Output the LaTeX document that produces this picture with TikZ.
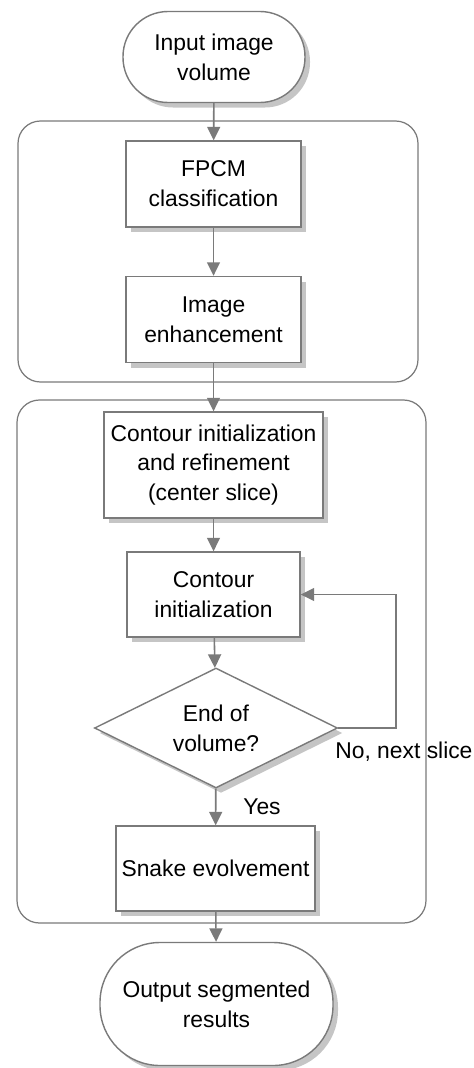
\documentclass[tikz,border=0pt]{standalone}
\usepackage{fontspec}
\setmainfont{Liberation Sans}
\usepackage{xcolor}
\usetikzlibrary{shapes.geometric,arrows.meta,shadows,positioning}
\definecolor{linegray}{HTML}{7A7A7A}

\tikzset{
    box/.style={draw=linegray, fill=white, line width=0.8pt, align=center,
        minimum width=3.5cm, minimum height=1.72cm, inner sep=2pt,
        font=\fontsize{13}{17}\selectfont,
        drop shadow={shadow xshift=0.1cm, shadow yshift=-0.1cm, fill=black!45}},
    term/.style={box, rounded corners=0.9cm},
    decision/.style={box, diamond, aspect=2, inner sep=0pt},
    flow/.style={draw=linegray, line width=0.9pt, -{Triangle[length=0.27cm,width=0.26cm]}},
    group/.style={draw=linegray, line width=0.7pt, rounded corners=0.45cm, inner sep=0pt},
    lbl/.style={anchor=west, inner sep=0pt, font=\fontsize{13}{17}\selectfont}
}

\begin{document}
\begin{tikzpicture}
    \useasboundingbox (0,0) rectangle (9.46,-21.36);

    % groups
    \node[group, minimum width=8.0cm, minimum height=5.22cm] (grpone) at (4.36,-5.03) {};
    \node[group, minimum width=8.18cm, minimum height=10.46cm] (grptwo) at (4.43,-13.23) {};

    % steps
    \node[term, minimum width=3.64cm, minimum height=1.82cm] (input) at (4.28,-1.14) {Input image\\volume};
    \node[box] (fpcm) at (4.27,-3.68) {FPCM\\classification};
    \node[box] (enhance) at (4.27,-6.39) {Image\\enhancement};
    \node[box, minimum width=4.38cm, minimum height=2.12cm] (refine) at (4.27,-9.3) {Contour initialization\\and refinement\\(center slice)};
    \node[box, minimum width=3.46cm, minimum height=1.7cm] (init) at (4.27,-11.89) {Contour\\initialization};
    \node[decision, minimum width=4.86cm, minimum height=2.4cm] (endvol) at (4.32,-14.56) {End of\\volume?};
    \node[box, minimum width=3.98cm, minimum height=1.7cm] (snake) at (4.31,-17.37) {Snake evolvement};
    \node[term, rounded corners=1.2cm, minimum width=4.66cm, minimum height=2.46cm] (output) at (4.33,-20.08) {Output segmented\\results};

    % arrows
    \draw[flow] (input) -- (fpcm);
    \draw[flow] (fpcm) -- (enhance);
    \draw[flow] (enhance) -- (refine);
    \draw[flow] (refine) -- (init);
    \draw[flow] (init) -- (endvol);
    \draw[flow] (endvol) -- (snake);
    \draw[flow] (snake) -- (output);

    % loop back
    \coordinate (loopc) at (7.92,-14.56);
    \draw[flow] (endvol.east) -- (loopc) |- (init.east);
    \node[lbl] (nolbl) at (6.7,-15.04) {No, next slice};
    \node[lbl] (yeslbl) at (4.86,-16.14) {Yes};
\end{tikzpicture}
\end{document}
